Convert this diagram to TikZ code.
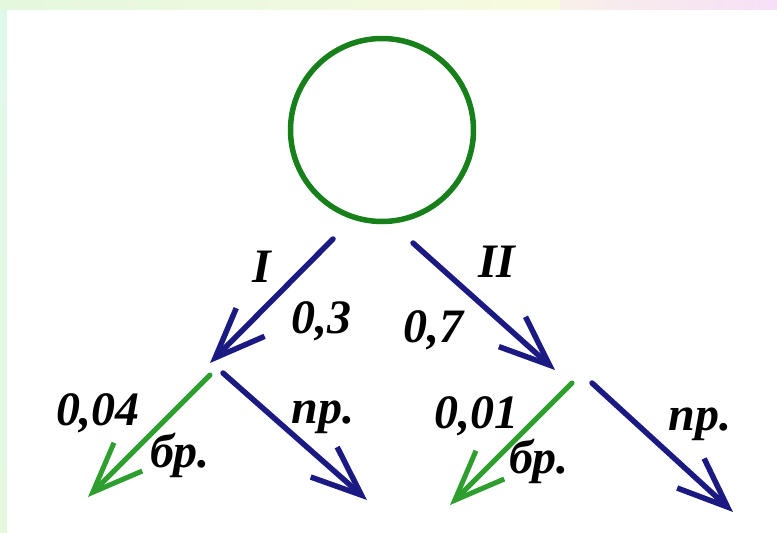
\documentclass[tikz,border=0pt]{standalone}
\usepackage{fontspec}
\setmainfont{Liberation Serif}
\usetikzlibrary{arrows.meta}
\definecolor{rootgreen}{HTML}{17801A}
\definecolor{branchnavy}{HTML}{1A1A82}
\definecolor{branchgreen}{HTML}{2E9E2E}
\definecolor{bandgreen}{HTML}{E4F8DE}
\definecolor{bandyellow}{HTML}{F8FADF}
\definecolor{bandpink}{HTML}{F7E0F7}
\definecolor{bandmint}{HTML}{E0F8EC}

\begin{document}
\begin{tikzpicture}[
    x=1pt, y=-1pt,
    line cap=round, line join=round,
    navyarrow/.style={draw=branchnavy, line width=5.5pt, -{Straight Barb[length=50pt, width=40pt]}},
    greenarrow/.style={draw=branchgreen, line width=5pt, -{Straight Barb[length=50pt, width=40pt]}},
    lbl/.style={anchor=base, inner sep=0pt, font=\fontsize{48}{52}\selectfont\bfseries\itshape}
  ]
    % Фон и цветные полосы по краям
    \fill[white] (0,0) rectangle (777,533);
    \shade[left color=bandgreen, right color=bandyellow] (0,0) rectangle (560,9);
    \shade[left color=bandyellow!60!bandpink, right color=bandpink] (560,0) rectangle (777,9);
    \shade[top color=bandmint, bottom color=bandgreen] (0,9) rectangle (7,533);
    \useasboundingbox (0,0) rectangle (777,533);

    % Исходный круг
    \node[circle, draw=rootgreen, line width=5.5pt, minimum size=183pt, inner sep=0pt] (root) at (382,130) {};

    % Точки ветвления
    \coordinate (s1) at (333,239);
    \coordinate (v1) at (210,363);
    \coordinate (s2) at (413,243);
    \coordinate (v2) at (555,370);
    \coordinate (v1g) at (210,375);
    \coordinate (v1b) at (223,373);
    \coordinate (v2g) at (572,383);
    \coordinate (v2b) at (592,383);
    \coordinate (e1g) at (88,497);
    \coordinate (e1b) at (367,500);
    \coordinate (e2g) at (450,505);
    \coordinate (e2b) at (733,512);

    % Первый уровень: I и II
    \draw[navyarrow] (s1) -- (v1);
    \draw[navyarrow] (s2) -- (v2);

    % Второй уровень: бр. и пр.
    \draw[greenarrow] (v1g) -- (e1g);
    \draw[navyarrow] (v1b) -- (e1b);
    \draw[greenarrow] (v2g) -- (e2g);
    \draw[navyarrow] (v2b) -- (e2b);

    % Подписи
    \node[lbl] (labI) at (262,282) {I};
    \node[lbl] (pI) at (321,333) {0,3};
    \node[lbl] (labII) at (497,277) {II};
    \node[lbl] (pII) at (433,342) {0,7};
    \node[lbl] (pIg) at (98,425) {0,04};
    \node[lbl] (bIg) at (180,467) {бр.};
    \node[lbl] (nIb) at (323,423) {пр.};
    \node[lbl] (pIIg) at (476,428) {0,01};
    \node[lbl] (bIIg) at (539,473) {бр.};
    \node[lbl] (nIIb) at (700,430) {пр.};
  \end{tikzpicture}
\end{document}
